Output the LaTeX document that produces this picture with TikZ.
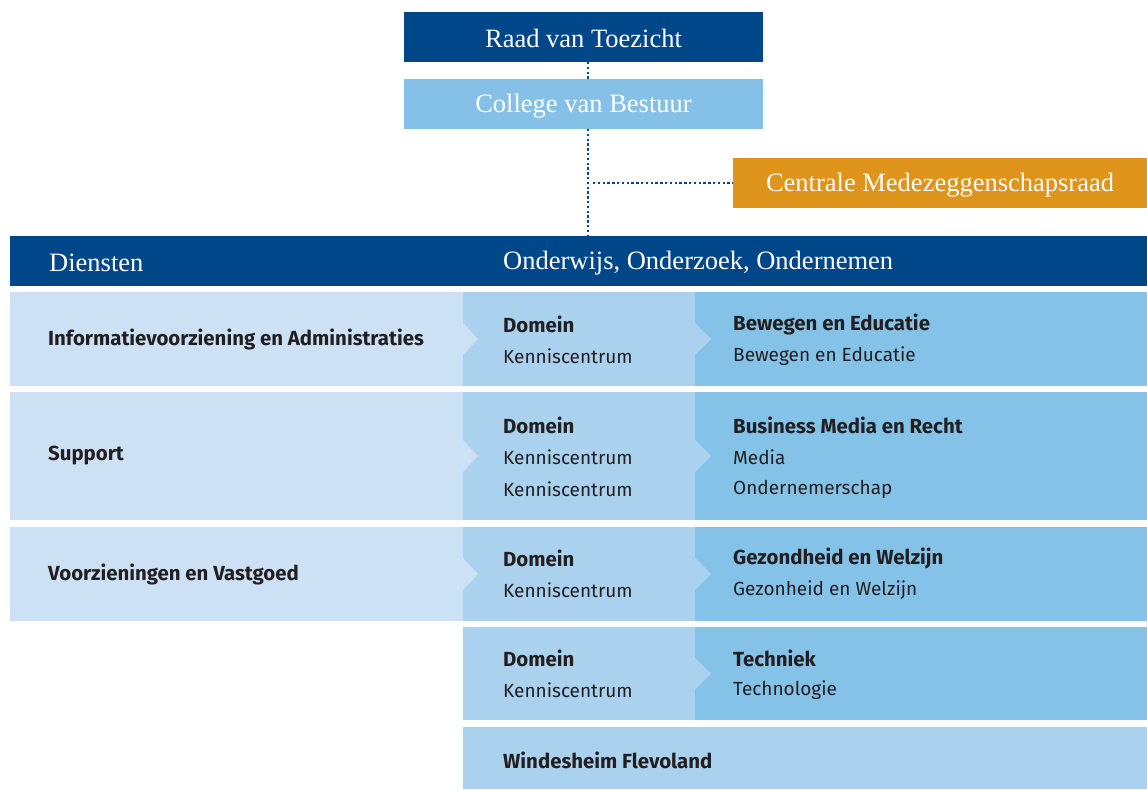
\documentclass[tikz,border=0pt]{standalone}
\usepackage{fontspec}
\setmainfont{Liberation Serif}
\setsansfont{Fira Sans}
\definecolor{dblue}{HTML}{00478A}
\definecolor{cvbc}{HTML}{85C1E7}
\definecolor{orangec}{HTML}{DF941B}
\definecolor{leftc}{HTML}{CCE2F4}
\definecolor{midc}{HTML}{AAD1EE}
\definecolor{rightc}{HTML}{84C2E8}
\definecolor{txt}{HTML}{231F20}
\begin{document}
\begin{tikzpicture}[x=1pt,y=-1pt,
  box/.style={inner sep=0pt, outer sep=0pt, anchor=north west},
  serifw/.style={text=white, font=\fontsize{26.5}{30}\selectfont},
  lab/.style={anchor=west, inner sep=0pt, text=txt, font=\sffamily\fontsize{19}{22}\selectfont},
  blab/.style={lab, font=\sffamily\bfseries\fontsize{20.4}{23}\selectfont},
  dotline/.style={dblue, line width=2.6pt, dash pattern=on 2.4pt off 2.4pt}
]
\useasboundingbox (0,0) rectangle (1147,789);

% connectors first
\coordinate (v1) at (588,62);
\coordinate (v2) at (588,79);
\coordinate (v3) at (588,129);
\coordinate (v4) at (588,236);
\coordinate (h1) at (593,183);
\draw[dotline] (v1) -- (v2);
\draw[dotline] (v3) -- (v4);

% top boxes
\node[box, fill=dblue, minimum width=359pt, minimum height=50pt] (raad) at (404,12) {};
\node[serifw] (raadt) at ([yshift=-1.5pt]raad.center) {Raad van Toezicht};
\node[box, fill=cvbc, minimum width=359pt, minimum height=50pt] (cvb) at (404,79) {};
\node[serifw] (cvbt) at ([yshift=-2pt]cvb.center) {College van Bestuur};
\node[box, fill=orangec, minimum width=414pt, minimum height=50pt] (cmr) at (733,158) {};
\node[serifw] (cmrt) at ([yshift=-2pt]cmr.center) {Centrale Medezeggenschapsraad};
\draw[dotline] (h1) -- (cmr.west);

% header bar
\node[box, fill=dblue, minimum width=1137pt, minimum height=50pt] (hdr) at (10,236) {};
\node[serifw, anchor=west, inner sep=0pt] (diensten) at (49,263) {Diensten};
\node[serifw, anchor=west, inner sep=0pt] (ooo) at (503,263) {Onderwijs, Onderzoek, Ondernemen};

% rows: left column
\node[box, fill=leftc, minimum width=453pt, minimum height=94pt] (l1) at (10,292) {};
\node[box, fill=leftc, minimum width=453pt, minimum height=128pt] (l2) at (10,392) {};
\node[box, fill=leftc, minimum width=453pt, minimum height=94pt] (l3) at (10,527) {};
% middle column
\node[box, fill=midc, minimum width=232pt, minimum height=94pt] (m1) at (463,292) {};
\node[box, fill=midc, minimum width=232pt, minimum height=128pt] (m2) at (463,392) {};
\node[box, fill=midc, minimum width=232pt, minimum height=94pt] (m3) at (463,527) {};
\node[box, fill=midc, minimum width=232pt, minimum height=93pt] (m4) at (463,627) {};
% right column
\node[box, fill=rightc, minimum width=452pt, minimum height=94pt] (r1) at (695,292) {};
\node[box, fill=rightc, minimum width=452pt, minimum height=128pt] (r2) at (695,392) {};
\node[box, fill=rightc, minimum width=452pt, minimum height=94pt] (r3) at (695,527) {};
\node[box, fill=rightc, minimum width=452pt, minimum height=93pt] (r4) at (695,627) {};
% bottom row
\node[box, fill=midc, minimum width=684pt, minimum height=62pt] (w) at (463,727) {};

% notches
\foreach \n in {1,2,3} {
  \fill[leftc] (l\n.east) ++(0,-16) -- ++(15,16) -- ++(-15,16) -- cycle;
}
\foreach \n in {1,2,3,4} {
  \fill[midc] (m\n.east) ++(0,-16) -- ++(16,16) -- ++(-16,16) -- cycle;
}

% left labels
\node[blab] (t11) at (48,339) {Informatievoorziening en Administraties};
\node[blab] (t21) at (48,456) {Support};
\node[blab] (t31) at (48,574) {Voorzieningen en Vastgoed};

% middle labels
\node[blab] (d1) at (503,324) {Domein};
\node[lab] (k1) at (503,356) {Kenniscentrum};
\node[blab] (d2) at (503,425) {Domein};
\node[lab] (k2a) at (503,457) {Kenniscentrum};
\node[lab] (k2b) at (503,489) {Kenniscentrum};
\node[blab] (d3) at (503,558) {Domein};
\node[lab] (k3) at (503,590) {Kenniscentrum};
\node[blab] (d4) at (503,658) {Domein};
\node[lab] (k4) at (503,690) {Kenniscentrum};

% right labels
\node[blab] (b1) at (733,324) {Bewegen en Educatie};
\node[lab] (b1a) at (733,356) {Bewegen en Educatie};
\node[blab] (b2) at (733,425) {Business Media en Recht};
\node[lab] (b2a) at (733,457) {Media};
\node[lab] (b2b) at (733,489) {Ondernemerschap};
\node[blab] (b3) at (733,558) {Gezondheid en Welzijn};
\node[lab] (b3a) at (733,590) {Gezonheid en Welzijn};
\node[blab] (b4) at (733,658) {Techniek};
\node[lab] (b4a) at (733,690) {Technologie};

\node[blab] (wt) at (503,760) {Windesheim Flevoland};
\end{tikzpicture}
\end{document}
